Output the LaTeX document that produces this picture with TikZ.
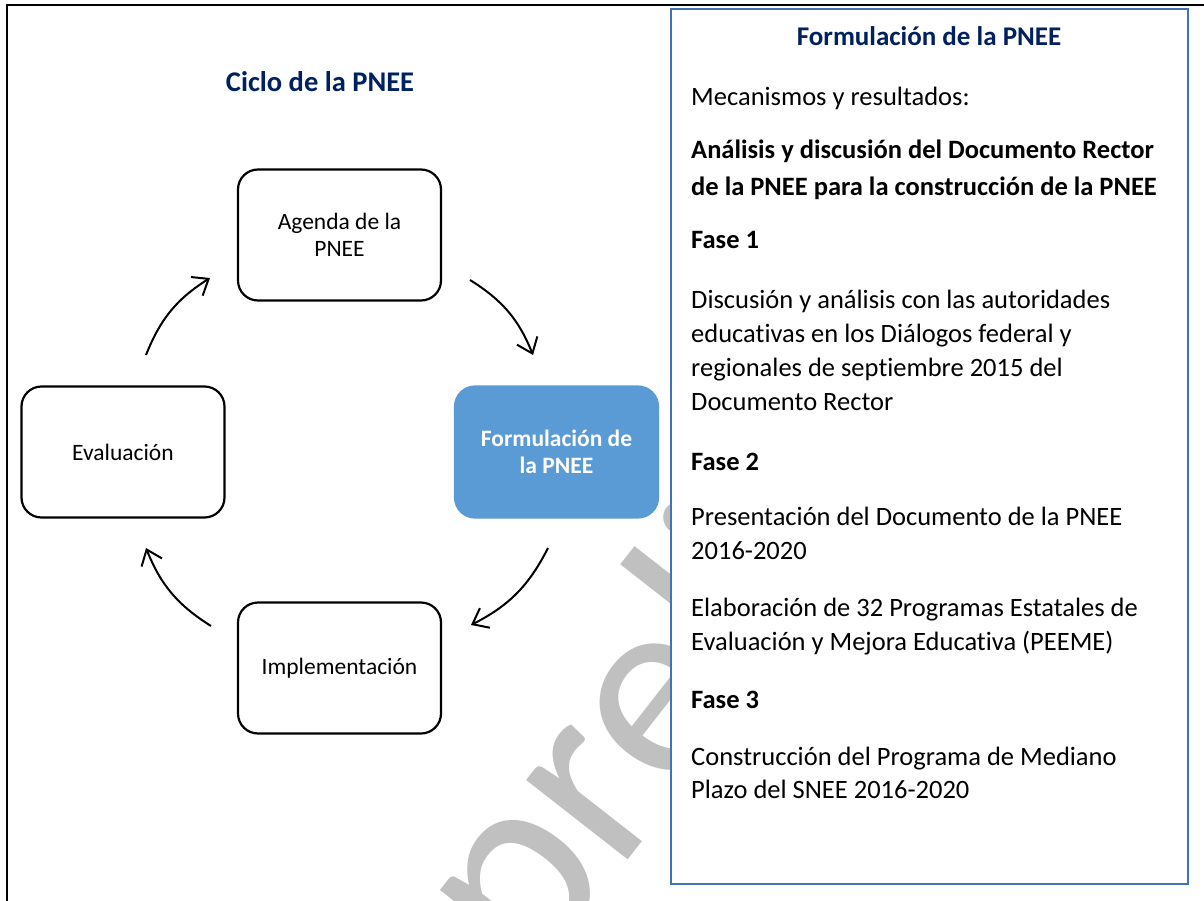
\documentclass[tikz,border=0pt]{standalone}
\usepackage{fontspec}
\setmainfont{Carlito}[Ligatures={NoCommon}]
\usetikzlibrary{arrows.meta}
\definecolor{navy}{RGB}{0,32,96}
\definecolor{fillblue}{RGB}{91,155,213}
\definecolor{panelblue}{RGB}{65,113,185}
\definecolor{wmgray}{RGB}{192,192,192}
\tikzset{
  cyc/.style={draw, line width=2.2pt, rounded corners=20pt, minimum width=203pt, minimum height=131pt, align=center, inner sep=0pt, font=\fontsize{23.5}{27}\selectfont},
  cycblue/.style={cyc, draw=fillblue, fill=fillblue, text=white, font=\fontsize{23.5}{27}\selectfont\bfseries},
  arr/.style={line width=2pt, -{Straight Barb[length=14pt,width=22pt]}},
  ttl/.style={font=\fontsize{27}{32}\selectfont\bfseries, text=navy, inner sep=0pt, anchor=base},
  txt/.style={font=\fontsize{26.5}{32}\selectfont, inner sep=0pt, anchor=base west},
  btxt/.style={txt, font=\fontsize{26.5}{32}\selectfont\bfseries},
  wm/.style={font=\fontsize{270}{280}\selectfont, text=wmgray, inner sep=0pt}
}
\begin{document}
\begin{tikzpicture}[x=1pt,y=-1pt]
\useasboundingbox (0,0) rectangle (1204,901);
\clip (0,0) rectangle (1204,901);
\fill[white] (0,0) rectangle (1204,901);
% watermark (only visible left of the panel)
\begin{scope}
\clip (0,0) rectangle (671,901);
\node[wm, rotate=52, anchor=base west] (wmark) at (530,985) {preliminar};
\end{scope}
% outer frame
\draw[line width=2.6pt] (7,5) rectangle (1260,960);
% cycle
\node[ttl, font=\fontsize{28.5}{32}\selectfont\bfseries] (ciclo) at (320,92) {Ciclo de la PNEE};
\node[cyc] (agenda) at (339.5,235) {Agenda de la\\PNEE};
\node[cyc] (eval) at (123,452) {Evaluación};
\node[cycblue] (form) at (556.5,452) {Formulación de\\la PNEE};
\node[cyc] (impl) at (339.5,668) {Implementación};
\coordinate (e1) at (146,355); \coordinate (e2) at (210,278);
\coordinate (a1) at (470,280); \coordinate (a2) at (533,355);
\coordinate (f1) at (548,548); \coordinate (f2) at (471,625);
\coordinate (i1) at (211,626); \coordinate (i2) at (146,548);
\draw[arr] (e1) to[bend left=18] (e2);
\draw[arr] (a1) to[bend left=18] (a2);
\draw[arr] (f1) to[bend left=18] (f2);
\draw[arr] (i1) to[bend left=18] (i2);
% panel
\node[draw=panelblue, line width=2pt, fill=white, minimum width=517pt, minimum height=875pt, anchor=north west, inner sep=0pt] (panel) at (670,8) {};
\node[ttl] (ptitle) at (929,46) {Formulación de la PNEE};
\node[txt] (l1) at (691,106) {Mecanismos y resultados:};
\node[btxt] (l2) at (691,159) {Análisis y discusión del Documento Rector};
\node[btxt] (l3) at (691,196) {de la PNEE para la construcción de la PNEE};
\node[btxt] (l4) at (691,249) {Fase 1};
\node[txt] (l5) at (691,308) {Discusión y análisis con las autoridades};
\node[txt] (l6) at (691,342) {educativas en los Diálogos federal y};
\node[txt] (l7) at (691,376) {regionales de septiembre 2015 del};
\node[txt] (l8) at (691,410) {Documento Rector};
\node[btxt] (l9) at (691,470) {Fase 2};
\node[txt] (l10) at (691,525) {Presentación del Documento de la PNEE};
\node[txt] (l11) at (691,559) {2016-2020};
\node[txt] (l12) at (691,616) {Elaboración de 32 Programas Estatales de};
\node[txt] (l13) at (691,650) {Evaluación y Mejora Educativa (PEEME)};
\node[btxt] (l14) at (691,708) {Fase 3};
\node[txt] (l15) at (691,765) {Construcción del Programa de Mediano};
\node[txt] (l16) at (691,798) {Plazo del SNEE 2016-2020};
\end{tikzpicture}
\end{document}
